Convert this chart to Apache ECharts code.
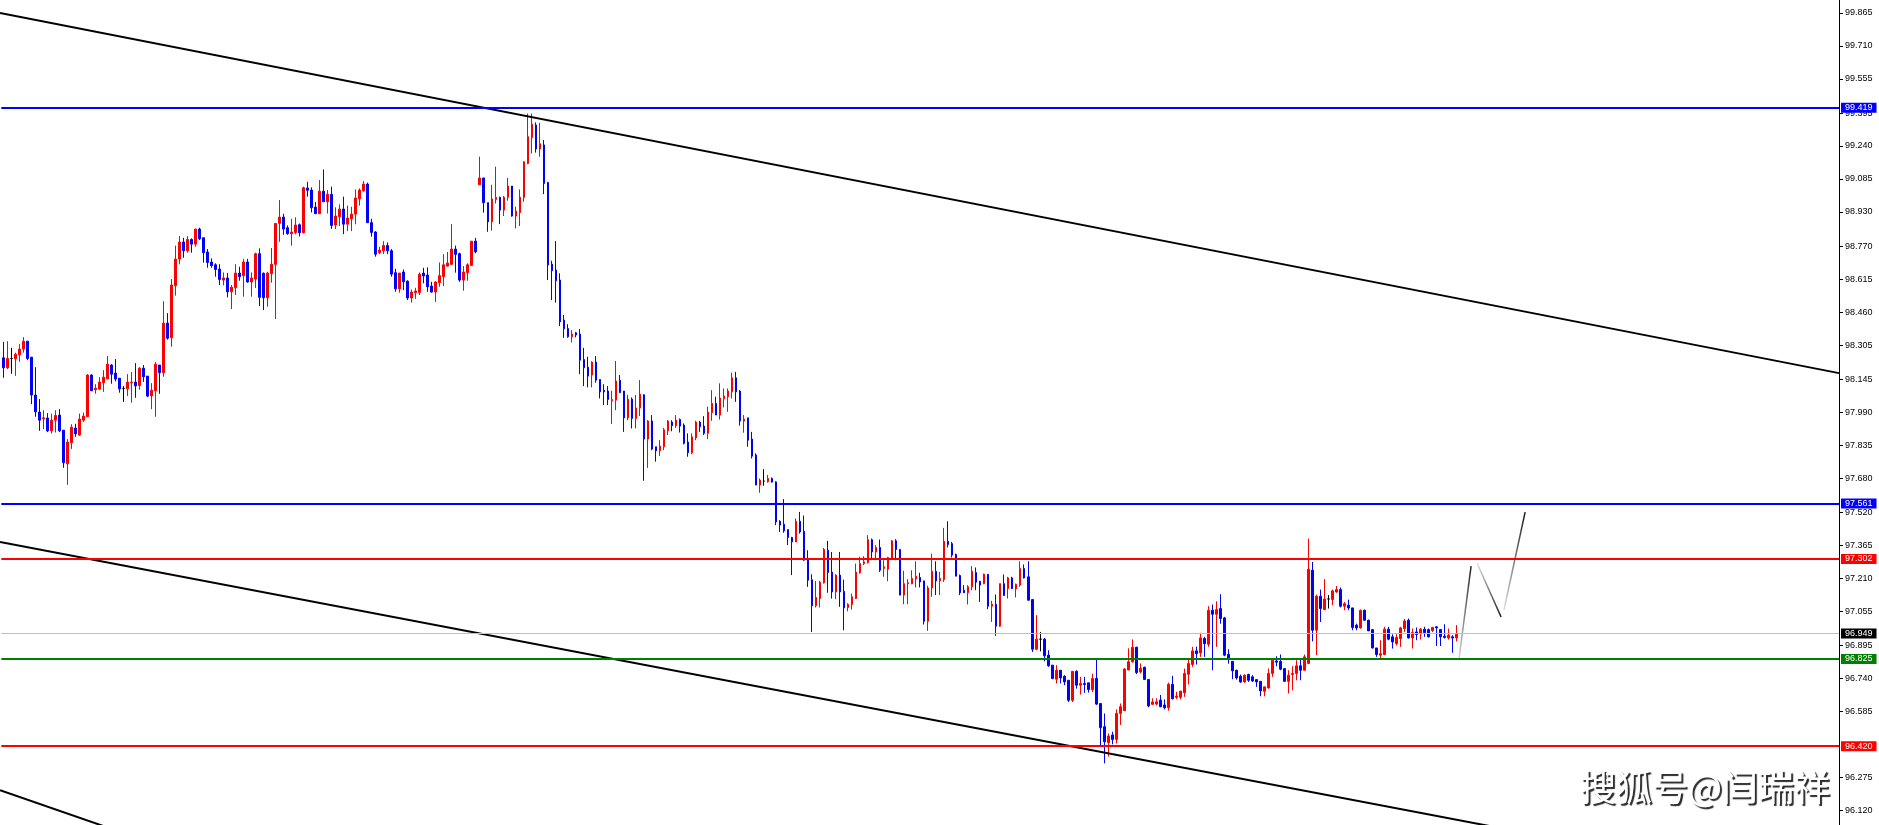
<!DOCTYPE html>
<html><head><meta charset="utf-8">
<script src="https://cdn.jsdelivr.net/npm/echarts@6/dist/echarts.min.js"></script>
<style>html,body{margin:0;padding:0;background:#fff;}#c{width:1879px;height:825px;}</style>
</head><body><div id="c"></div>
<script>
// OHLC candles: [open, close, low, high]
const candles = [
[98.245,98.198,98.151,98.320],[98.198,98.242,98.192,98.323],[98.242,98.242,98.170,98.292],[98.240,98.262,98.160,98.269],
[98.259,98.286,98.226,98.309],[98.286,98.323,98.269,98.342],[98.323,98.242,98.234,98.323],[98.248,98.070,98.027,98.248],
[98.070,97.991,97.968,98.201],[97.990,97.952,97.902,98.051],[97.958,97.963,97.910,97.999],[97.962,97.902,97.896,97.985],
[97.902,97.952,97.889,97.983],[97.952,97.974,97.894,97.999],[97.976,97.902,97.896,98.004],[97.905,97.752,97.728,97.905],
[97.747,97.849,97.648,97.863],[97.846,97.919,97.817,97.933],[97.915,97.888,97.874,97.935],[97.882,97.957,97.878,97.983],
[97.952,97.971,97.944,97.988],[97.968,98.164,97.968,98.168],[98.164,98.090,98.090,98.168],[98.095,98.102,98.076,98.121],
[98.098,98.131,98.093,98.154],[98.128,98.154,98.085,98.187],[98.146,98.215,98.145,98.253],[98.211,98.168,98.123,98.215],
[98.173,98.145,98.134,98.239],[98.149,98.099,98.081,98.149],[98.101,98.101,98.038,98.112],[98.099,98.131,98.066,98.168],
[98.128,98.131,98.034,98.178],[98.131,98.113,98.057,98.220],[98.115,98.196,98.095,98.201],[98.196,98.156,98.132,98.211],
[98.159,98.065,98.060,98.159],[98.066,98.093,98.004,98.126],[98.090,98.215,97.968,98.225],[98.211,98.175,98.076,98.211],
[98.175,98.408,98.156,98.511],[98.408,98.337,98.330,98.455],[98.339,98.587,98.297,98.615],[98.584,98.709,98.537,98.772],
[98.709,98.789,98.684,98.817],[98.789,98.748,98.715,98.809],[98.748,98.801,98.739,98.817],[98.801,98.779,98.739,98.806],
[98.779,98.850,98.767,98.850],[98.850,98.804,98.798,98.856],[98.809,98.739,98.692,98.809],[98.742,98.693,98.668,98.756],
[98.695,98.678,98.668,98.712],[98.682,98.660,98.626,98.689],[98.662,98.613,98.587,98.685],[98.610,98.620,98.585,98.646],
[98.620,98.555,98.529,98.643],[98.555,98.577,98.474,98.587],[98.574,98.643,98.540,98.685],[98.643,98.626,98.607,98.673],
[98.631,98.695,98.532,98.710],[98.695,98.601,98.598,98.710],[98.601,98.620,98.532,98.646],[98.615,98.734,98.573,98.739],
[98.734,98.529,98.488,98.759],[98.642,98.527,98.469,98.646],[98.527,98.643,98.485,98.649],[98.640,98.684,98.598,98.761],
[98.684,98.876,98.427,98.876],[98.876,98.906,98.790,98.986],[98.906,98.850,98.823,98.922],[98.856,98.828,98.823,98.867],
[98.828,98.836,98.772,98.898],[98.834,98.869,98.825,98.905],[98.870,98.833,98.815,98.876],[98.833,99.044,98.829,99.049],
[99.043,99.032,99.002,99.072],[99.033,98.950,98.928,99.046],[98.953,98.922,98.922,98.977],[98.922,99.028,98.922,99.080],
[99.028,98.978,98.978,99.130],[98.978,99.013,98.923,99.033],[99.013,98.867,98.851,99.049],[98.869,98.911,98.850,98.952],
[98.908,98.944,98.864,98.966],[98.944,98.873,98.826,99.002],[98.873,98.902,98.840,98.960],[98.898,98.920,98.840,98.955],
[98.920,98.996,98.872,99.036],[98.992,99.033,98.960,99.041],[99.030,99.061,99.025,99.075],[99.061,98.880,98.880,99.068],
[98.880,98.834,98.814,98.898],[98.836,98.732,98.720,98.840],[98.739,98.751,98.732,98.767],[98.748,98.773,98.732,98.793],
[98.773,98.748,98.732,98.787],[98.748,98.638,98.626,98.756],[98.645,98.569,98.555,98.663],[98.569,98.643,98.551,98.643],
[98.648,98.602,98.563,98.660],[98.605,98.526,98.516,98.609],[98.526,98.554,98.504,98.566],[98.551,98.559,98.522,98.574],
[98.552,98.638,98.540,98.646],[98.643,98.629,98.595,98.668],[98.634,98.579,98.555,98.670],[98.582,98.554,98.551,98.602],
[98.554,98.601,98.508,98.605],[98.598,98.631,98.579,98.693],[98.627,98.682,98.582,98.732],[98.676,98.690,98.673,98.742],
[98.684,98.756,98.681,98.873],[98.756,98.731,98.645,98.772],[98.734,98.610,98.602,98.739],[98.610,98.648,98.560,98.676],
[98.645,98.682,98.607,98.689],[98.679,98.793,98.676,98.793],[98.793,98.743,98.736,98.809],[99.058,99.090,99.058,99.190],
[99.090,98.974,98.927,99.090],[98.974,98.884,98.837,98.974],[98.884,98.991,98.842,99.058],[98.989,98.999,98.970,99.143],
[98.999,98.939,98.873,99.002],[98.939,98.999,98.911,99.006],[98.999,99.052,98.983,99.090],[99.052,98.911,98.908,99.052],
[98.911,98.934,98.853,98.955],[98.927,98.999,98.864,99.036],[98.999,99.166,98.978,99.169],[99.158,99.284,99.154,99.393],
[99.279,99.343,99.205,99.393],[99.339,99.226,99.209,99.351],[99.226,99.251,99.190,99.349],[99.245,99.064,99.014,99.268],
[99.068,98.681,98.610,99.072],[98.685,98.654,98.516,98.701],[98.657,98.607,98.504,98.793],[98.610,98.414,98.394,98.642],
[98.422,98.381,98.339,98.446],[98.383,98.344,98.339,98.403],[98.344,98.356,98.317,98.375],[98.363,98.352,98.341,98.367],
[98.356,98.234,98.168,98.380],[98.237,98.198,98.112,98.292],[98.201,98.159,98.106,98.250],[98.164,98.225,98.106,98.229],
[98.225,98.140,98.128,98.253],[98.143,98.085,98.054,98.143],[98.093,98.085,98.023,98.121],[98.089,98.049,98.023,98.112],
[98.043,98.049,97.934,98.090],[98.046,98.136,97.999,98.230],[98.140,98.081,98.081,98.164],[98.089,97.963,97.897,98.089],
[97.963,98.051,97.952,98.071],[98.051,97.960,97.913,98.059],[97.960,98.009,97.913,98.070],[98.009,98.074,97.971,98.140],
[98.071,97.863,97.667,98.074],[97.863,97.948,97.728,97.952],[97.948,97.816,97.811,97.976],[97.827,97.808,97.757,97.827],
[97.808,97.830,97.783,97.858],[97.827,97.907,97.811,97.916],[97.902,97.948,97.882,97.952],[97.943,97.926,97.900,97.952],
[97.926,97.952,97.916,97.976],[97.955,97.924,97.894,97.960],[97.929,97.843,97.838,97.937],[97.849,97.799,97.780,97.890],
[97.799,97.874,97.792,97.890],[97.869,97.943,97.858,97.949],[97.943,97.921,97.897,97.949],[97.924,97.890,97.882,97.971],
[97.890,97.990,97.863,98.015],[97.987,98.031,97.949,98.093],[98.031,97.976,97.976,98.062],[97.976,98.056,97.955,98.125],
[98.053,98.065,98.012,98.101],[98.062,98.089,97.991,98.101],[98.085,98.151,98.054,98.175],[98.151,98.085,98.038,98.179],
[98.089,97.948,97.926,98.093],[97.948,97.957,97.893,97.976],[97.963,97.858,97.827,97.963],[97.863,97.783,97.772,97.897],
[97.788,97.647,97.647,97.796],[97.647,97.670,97.611,97.678],[97.666,97.666,97.644,97.722],[97.663,97.678,97.658,97.694],
[97.678,97.661,97.659,97.683],[97.662,97.474,97.459,97.665],[97.477,97.459,97.427,97.482],[97.463,97.432,97.423,97.581],
[97.438,97.401,97.365,97.438],[97.401,97.380,97.224,97.404],[97.380,97.477,97.380,97.490],[97.477,97.427,97.419,97.521],
[97.430,97.294,97.291,97.504],[97.297,97.200,97.169,97.341],[97.202,97.080,96.957,97.228],[97.080,97.119,97.072,97.197],
[97.114,97.191,97.072,97.197],[97.188,97.344,97.184,97.352],[97.341,97.236,97.141,97.385],[97.238,97.145,97.114,97.333],
[97.145,97.224,97.111,97.228],[97.224,97.145,97.075,97.333],[97.148,97.070,96.965,97.203],[97.072,97.086,97.054,97.092],
[97.086,97.122,97.062,97.137],[97.114,97.238,97.111,97.278],[97.235,97.278,97.231,97.310],[97.278,97.286,97.271,97.313],
[97.283,97.390,97.278,97.412],[97.390,97.333,97.294,97.396],[97.333,97.354,97.294,97.365],[97.354,97.247,97.239,97.391],
[97.255,97.263,97.216,97.294],[97.252,97.307,97.195,97.310],[97.302,97.385,97.294,97.388],[97.385,97.344,97.294,97.393],
[97.344,97.130,97.130,97.347],[97.130,97.184,97.087,97.244],[97.183,97.188,97.087,97.205],[97.183,97.208,97.181,97.247],
[97.206,97.219,97.166,97.289],[97.213,97.192,97.166,97.235],[97.197,97.007,96.992,97.197],[97.007,97.164,96.962,97.174],
[97.164,97.242,97.122,97.325],[97.242,97.197,97.130,97.289],[97.197,97.208,97.130,97.239],[97.203,97.383,97.192,97.446],
[97.383,97.368,97.354,97.477],[97.372,97.318,97.307,97.380],[97.321,97.219,97.219,97.325],[97.222,97.141,97.130,97.227],
[97.153,97.141,97.141,97.177],[97.141,97.169,97.086,97.177],[97.169,97.242,97.153,97.266],[97.236,97.191,97.153,97.260],
[97.195,97.177,97.098,97.197],[97.184,97.228,97.181,97.231],[97.228,97.078,97.064,97.228],[97.078,97.087,97.004,97.103],
[97.087,96.984,96.939,97.133],[96.984,97.184,96.981,97.184],[97.184,97.128,97.127,97.227],[97.161,97.211,97.114,97.216],
[97.211,97.161,97.158,97.216],[97.159,97.181,97.119,97.184],[97.177,97.255,97.169,97.289],[97.255,97.211,97.208,97.274],
[97.216,97.106,97.106,97.289],[97.109,96.876,96.863,97.109],[96.876,96.923,96.871,97.036],[96.923,96.923,96.866,96.957],
[96.923,96.845,96.819,96.929],[96.848,96.798,96.793,96.871],[96.801,96.738,96.735,96.801],[96.735,96.777,96.715,96.801],
[96.777,96.741,96.715,96.777],[96.749,96.722,96.707,96.754],[96.730,96.636,96.628,96.730],[96.636,96.772,96.628,96.772],
[96.772,96.707,96.691,96.777],[96.707,96.715,96.663,96.746],[96.715,96.710,96.671,96.746],[96.718,96.686,96.672,96.718],
[96.686,96.738,96.675,96.761],[96.739,96.618,96.614,96.825],[96.621,96.507,96.418,96.621],[96.512,96.441,96.340,96.574],
[96.437,96.468,96.371,96.480],[96.473,96.452,96.429,96.488],[96.452,96.574,96.433,96.593],[96.574,96.606,96.520,96.621],
[96.587,96.783,96.587,96.786],[96.778,96.817,96.778,96.880],[96.817,96.885,96.813,96.922],[96.885,96.766,96.759,96.888],
[96.769,96.786,96.762,96.809],[96.791,96.734,96.731,96.794],[96.734,96.609,96.603,96.734],[96.617,96.628,96.614,96.645],
[96.618,96.629,96.612,96.645],[96.637,96.606,96.603,96.661],[96.614,96.601,96.593,96.640],[96.601,96.711,96.587,96.719],
[96.711,96.643,96.640,96.751],[96.650,96.656,96.642,96.676],[96.650,96.679,96.640,96.679],[96.671,96.762,96.652,96.785],
[96.758,96.809,96.710,96.827],[96.804,96.868,96.793,96.887],[96.868,96.855,96.804,96.888],[96.858,96.929,96.840,96.953],
[96.926,96.902,96.840,96.934],[96.899,97.059,96.887,97.078],[97.059,97.040,96.777,97.086],[97.040,97.062,96.887,97.101],
[97.067,97.020,96.996,97.134],[97.023,96.848,96.843,97.028],[96.852,96.827,96.808,96.876],[96.819,96.774,96.735,96.819],
[96.777,96.741,96.733,96.780],[96.749,96.722,96.718,96.757],[96.722,96.754,96.719,96.757],[96.757,96.730,96.722,96.761],
[96.746,96.727,96.722,96.754],[96.733,96.722,96.699,96.733],[96.725,96.680,96.655,96.725],[96.678,96.699,96.655,96.699],
[96.694,96.762,96.691,96.785],[96.762,96.824,96.746,96.835],[96.821,96.815,96.796,96.843],[96.819,96.782,96.777,96.851],
[96.785,96.725,96.722,96.788],[96.725,96.754,96.668,96.777],[96.757,96.762,96.683,96.796],[96.762,96.798,96.730,96.824],
[96.798,96.777,96.730,96.832],[96.777,96.840,96.777,96.851],[96.809,97.252,96.809,97.396],[97.247,96.965,96.913,97.286],
[96.965,97.125,96.848,97.133],[97.125,97.067,97.004,97.156],[97.062,97.112,97.059,97.205],[97.112,97.112,97.067,97.130],
[97.109,97.150,97.083,97.156],[97.145,97.156,97.141,97.173],[97.156,97.078,97.072,97.166],[97.078,97.090,97.059,97.098],
[97.083,97.070,97.059,97.109],[97.070,96.978,96.965,97.070],[96.989,96.976,96.965,96.996],[96.976,97.059,96.973,97.062],
[97.059,97.012,97.009,97.062],[97.012,96.962,96.962,97.015],[96.968,96.882,96.879,96.968],[96.882,96.851,96.840,96.882],
[96.848,96.855,96.827,96.918],[96.851,96.970,96.848,96.981],[96.970,96.923,96.918,96.981],[96.934,96.910,96.879,96.946],
[96.902,96.931,96.893,96.946],[96.926,96.976,96.887,96.981],[96.973,97.009,96.957,97.018],[97.012,96.929,96.926,97.020],
[96.929,96.954,96.879,96.973],[96.957,96.945,96.918,96.978],[96.949,96.970,96.921,96.976],[96.970,96.954,96.934,96.981],
[96.968,96.934,96.931,96.973],[96.963,96.978,96.957,96.981],[96.981,96.976,96.891,96.984],[96.968,96.934,96.891,96.971],
[96.937,96.931,96.926,96.993],[96.929,96.942,96.921,96.973],[96.934,96.929,96.859,96.942],[96.929,96.949,96.913,96.989]
];
const slotCount = 459; // chart slots incl. empty right margin
const categories = Array.from({length: slotCount}, (_, i) => 'bar' + i);

const yTicks = [99.865,99.710,99.555,99.395,99.240,99.085,98.930,98.770,98.615,98.460,98.305,98.145,
  97.990,97.835,97.680,97.520,97.365,97.210,97.055,96.895,96.740,96.585,96.275,96.120];
const yMin = 96.050, yMax = 99.926;

const levelValues = [99.419, 97.561, 97.302, 96.949, 96.825, 96.420];
const upperChannel = [[-0.82, 99.865], [458.5, 98.173]];
const lowerChannel = [[-0.82, 97.380], [458.5, 95.732]];
const lowerLeftLine = [[-0.82, 96.214], [29.15, 96.018]];
const projectionA = [[363.6, 96.834], [366.6, 97.266]];
const projectionB = [[368.1, 97.280], [374.1, 97.027]];
const projectionC = [[374.8, 97.060], [380.1, 97.520]];
const watermark = '搜狐号@闫瑞祥';

const levelStyles = [
  {line:'#0000ff', bg:'#0000ff', w:2},
  {line:'#0000ff', bg:'#0000ff', w:2},
  {line:'#ff0000', bg:'#ff0000', w:2},
  {line:'#c0c0c0', bg:'#000000', w:1},
  {line:'#008000', bg:'#008000', w:2},
  {line:'#ff0000', bg:'#ff0000', w:2}
];

const chart = echarts.init(document.getElementById('c'), null, {renderer:'canvas'});
const fade = () => new echarts.graphic.LinearGradient(0, 0, 1, 0, [
  {offset:0, color:'rgba(0,0,0,0.03)'}, {offset:1, color:'#000'}]);
const trend = (data, color, width) => ({
  type:'line', xAxisIndex:1, yAxisIndex:0, data, symbol:'none', silent:true,
  clip:true, lineStyle:{color, width}, z:3
});

chart.setOption({
  animation:false,
  backgroundColor:'#ffffff',
  title:{text:watermark, right:44, top:764,
    textStyle:{color:'#ffffff', fontSize:36, fontWeight:'normal', fontFamily:'Noto Sans CJK SC',
      textShadowColor:'rgba(0,0,0,0.85)', textShadowOffsetX:2, textShadowOffsetY:2, textShadowBlur:1}},
  grid:{left:1.3, right:40, top:0, bottom:0},
  xAxis:[
    {type:'category', data:categories, boundaryGap:true, show:false},
    {type:'value', min:-0.5, max:slotCount-0.5, show:false}
  ],
  yAxis:{
    type:'value', position:'right', min:yMin, max:yMax,
    splitLine:{show:false},
    axisLine:{show:true, onZero:false, lineStyle:{color:'#000', width:1}},
    axisTick:{show:true, length:4, lineStyle:{color:'#000'}, customValues:yTicks},
    axisLabel:{show:true, customValues:yTicks, formatter:v => v.toFixed(3), color:'#000',
      fontSize:9, fontFamily:'Liberation Sans', margin:6}
  },
  series:[
    {
      type:'candlestick', data:candles, barWidth:2, z:2,
      itemStyle:{color:'#ff0000', color0:'#0000ff', borderColor:'#ff0000', borderColor0:'#0000ff',
        borderColorDoji:'#000000', borderWidth:1},
      markLine:{
        silent:true, symbol:['none','none'], animation:false,
        data: levelValues.map((v, i) => ({
          yAxis:v,
          lineStyle:{color:levelStyles[i].line, width:levelStyles[i].w, type:'solid'},
          label:{show:true, position:'end', distance:2, formatter:() => v.toFixed(3),
            color:'#ffffff', backgroundColor:levelStyles[i].bg, padding:[1,4,0,4],
            fontSize:9, fontFamily:'Liberation Sans'}
        }))
      }
    },
    trend(upperChannel, '#000', 2),
    trend(lowerChannel, '#000', 2),
    trend(lowerLeftLine, '#000', 2),
    trend(projectionA, fade(), 1.5),
    trend(projectionB, fade(), 1.5),
    trend(projectionC, fade(), 1.5)
  ]
});
</script></body></html>
